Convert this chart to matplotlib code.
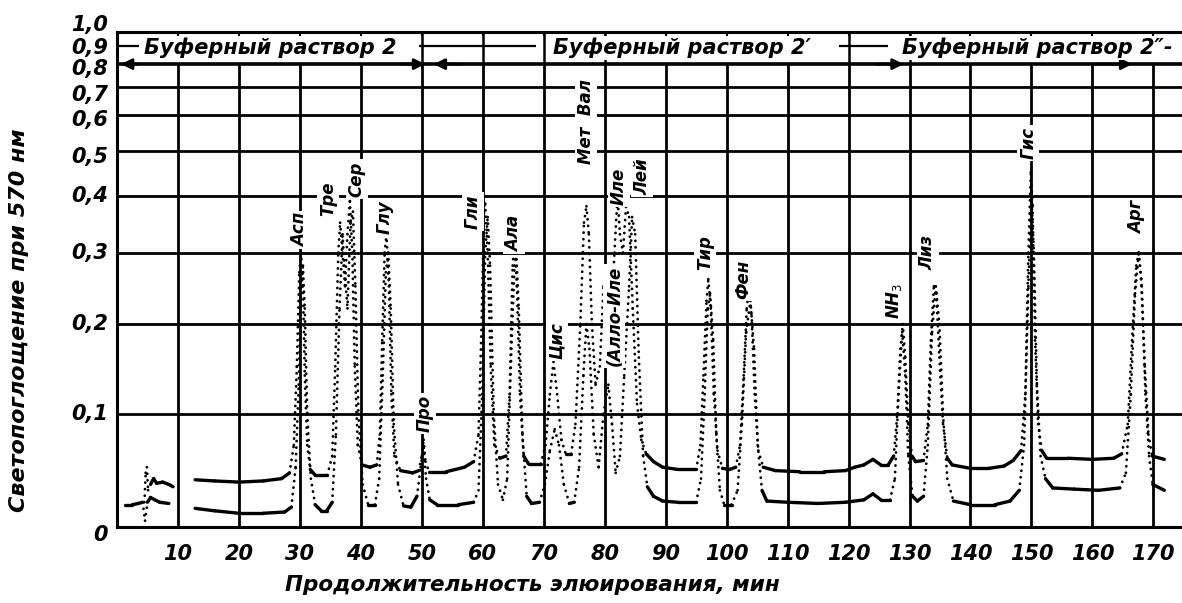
import numpy as np
import matplotlib
matplotlib.use('Agg')
import matplotlib.pyplot as plt
from matplotlib.collections import LineCollection
from matplotlib.transforms import offset_copy

# --- данные, снятые с хроматограммы (время, мин; светопоглощение) ---
# верхняя запись (канал с более высокой базовой линией)
up_t = [12.8, 16, 20, 24, 27, 28.3, 29.0, 29.5, 29.9, 30.2, 30.5, 30.8, 31.2, 31.7, 32.5, 34.5,
        35.3, 35.8, 36.3, 36.6, 37.0, 37.4, 37.8, 38.2, 38.6, 39.0, 39.5, 40.2, 41.5, 42.6,
        43.1, 43.5, 43.9, 44.2, 44.6, 45.0, 45.5, 46.5, 48.5, 49.5, 50.0, 50.3, 50.6, 51.2,
        54, 57, 58.5, 59.3, 59.8, 60.2, 60.4, 60.8, 61.3, 61.9, 62.8, 63.8, 64.4, 64.9, 65.2,
        65.6, 66.1, 66.7, 67.5, 69.5, 70.3, 71.0, 71.6, 72.2, 72.9, 73.6, 74.5, 75.2, 76.0,
        76.6, 77.0, 77.4, 77.9, 78.5, 79.2, 79.8, 80.3, 80.9, 81.6, 82.1, 82.5, 83.0, 83.5,
        84.0, 84.6, 85.3, 86.0, 86.8, 88.0, 89.5, 92, 95.0, 95.7, 96.2, 96.7, 97.0, 97.4,
        97.9, 98.5, 99.3, 100.5, 101.5, 102.2, 102.8, 103.3, 103.7, 104.1, 104.6, 105.2,
        106.0, 108, 112, 116, 119.5, 121, 122.5, 124, 125.3, 126.5, 127.4, 128.0, 128.5,
        128.9, 129.3, 129.8, 130.4, 131.0, 132.3, 133.0, 133.5, 134.0, 134.4, 134.9, 135.5,
        136.2, 137, 140, 143, 145.5, 147, 148.3, 149.0, 149.5, 149.9, 150.2, 150.6, 151.1,
        151.7, 152.5, 156, 160, 163.5, 164.8, 165.8, 166.5, 167.2, 167.6, 168.0, 168.6,
        169.2, 169.8, 171.8]
up_a = [.039, .038, .037, .038, .040, .045, .07, .15, .27, .30, .25, .14, .07, .048, .043, .043,
        .06, .15, .30, .35, .30, .25, .33, .39, .30, .15, .07, .052, .050, .052,
        .08, .18, .30, .33, .25, .12, .06, .047, .045, .047, .06, .075, .055, .046,
        .046, .050, .055, .08, .20, .37, .385, .30, .15, .07, .058, .06, .12, .28, .32,
        .25, .12, .06, .053, .053, .07, .12, .155, .12, .075, .062, .062, .09, .20,
        .35, .38, .33, .20, .13, .15, .25, .22, .18, .30, .40, .33, .30, .38,
        .36, .22, .11, .075, .062, .055, .050, .048, .048, .07, .14, .23, .26, .22,
        .12, .065, .049, .048, .050, .07, .14, .22, .25, .21, .12, .065,
        .050, .047, .046, .046, .047, .050, .052, .057, .052, .052, .06, .10, .17,
        .20, .16, .09, .06, .055, .056, .09, .18, .25, .24, .16, .09,
        .058, .052, .049, .049, .051, .056, .065, .12, .30, .45, .38, .18, .09,
        .065, .058, .058, .057, .058, .062, .09, .18, .28, .30, .26, .15,
        .08, .06, .057]

# нижняя запись
low_t = [12.8, 16, 20, 24, 27.5, 28.6, 29.3, 29.8, 30.2, 30.5, 30.8, 31.2, 31.8, 32.5, 33.5, 34.4,
         35.3, 35.9, 36.5, 37.0, 37.3, 37.8, 38.3, 38.7, 39.1, 39.6, 40.3, 41.2, 42.3, 43.0,
         43.6, 44.1, 44.5, 44.9, 45.4, 46.1, 47.0, 48.2, 49.2, 49.8, 50.3, 50.7, 51.3, 52.5,
         56, 58.5, 59.3, 59.9, 60.4, 60.8, 61.2, 61.8, 62.5, 63.3, 64.0, 64.7, 65.2, 65.5,
         65.9, 66.5, 67.2, 68, 69.3, 70.2, 71.0, 71.8, 72.5, 73.3, 74.2, 75.0, 75.8, 76.5,
         77.0, 77.5, 78.2, 79.0, 79.8, 80.6, 81.2, 81.8, 82.5, 83.2, 84.0, 84.5, 85.0, 85.6,
         86.3, 87.0, 88.0, 89.5, 92, 95.0, 95.8, 96.4, 96.9, 97.3, 97.8, 98.3, 98.9, 99.6,
         100.8, 101.8, 102.5, 103.2, 103.9, 104.5, 105.1, 105.8, 106.6, 110, 115, 119.5,
         122.5, 124, 125.3, 126.8, 127.6, 128.2, 128.8, 129.3, 129.8, 130.5, 131.3, 132.3,
         133.0, 133.7, 134.3, 134.9, 135.5, 136.2, 137.2, 140, 144, 146.5, 148, 148.8, 149.5,
         150.0, 150.4, 150.9, 151.5, 152.3, 153.5, 157, 161, 164.5, 165.5, 166.3, 167.0,
         167.6, 168.1, 168.7, 169.3, 169.9, 171.8]
low_a = [.015, .013, .011, .011, .012, .016, .05, .13, .24, .28, .22, .10, .04, .018, .013, .013,
         .02, .08, .22, .33, .28, .22, .35, .37, .25, .10, .035, .018, .018, .04,
         .14, .27, .30, .22, .09, .035, .017, .016, .025, .05, .068, .04, .022, .018,
         .018, .020, .03, .12, .30, .36, .28, .10, .035, .022, .04, .17, .28, .30,
         .22, .08, .025, .019, .020, .035, .065, .085, .07, .035, .019, .020, .05, .14,
         .20, .17, .08, .05, .10, .13, .09, .045, .06, .14, .25, .36, .33, .16,
         .06, .033, .025, .021, .020, .020, .04, .12, .22, .24, .18, .08, .03, .018,
         .018, .03, .09, .19, .23, .17, .07, .03, .021, .020, .019, .020,
         .022, .027, .022, .022, .04, .12, .19, .14, .06, .025, .021, .025,
         .07, .19, .25, .20, .10, .04, .021, .018, .018, .021, .030, .07, .25,
         .40, .30, .13, .06, .04, .032, .031, .030, .032, .045, .12, .24,
         .30, .25, .12, .06, .035, .030]

# начальный участок (ввод пробы)
up0_t = [4.5, 4.7, 4.9, 5.1, 5.5, 6.0, 6.5, 7.5, 8.5, 9.2]
up0_a = [.020, .045, .050, .030, .035, .040, .036, .037, .035, .033]
low0_t = [1.3, 2.5, 3.5, 4.2, 4.6, 5.0, 5.5, 6.2, 7.0, 8.5]
low0_a = [.018, .018, .019, .020, .005, .020, .024, .022, .020, .019]

# подписи пиков
peak_names = ['Асп', 'Тре', 'Сер', 'Глу', 'Про', 'Гли', 'Ала', 'Цис', 'Мет  Вал',
              '(Алло-Иле', 'Иле', 'Лей', 'Тир', 'Фен', 'NH$_3$', 'Лиз', 'Гис', 'Арг']
peak_t = [30.0, 34.6, 39.3, 43.9, 50.5, 58.4, 65.2, 72.1, 77.0,
          81.6, 82.3, 86.2, 96.5, 102.8, 127.5, 133.0, 149.5, 167.4]
peak_a = [.337, .395, .435, .36, .10, .37, .33, .18, .58,
          .21, .42, .44, .30, .26, .23, .30, .52, .36]

buffer_names = ['Буферный раствор 2', 'Буферный раствор 2′', 'Буферный раствор 2″-']
buffer_t = [4.4, 71.5, 128.8]

# короткие отрезки линии 0,9 в полосе подписей буферов
band_start = [0, 49.5, 118.5]
band_end = [3.6, 68.8, 126.5]

y_ticks = [0, .1, .2, .3, .4, .5, .6, .7, .8, .9, 1.0]
y_labels = ['0', '0,1', '0,2', '0,3', '0,4', '0,5', '0,6', '0,7', '0,8', '0,9', '1,0']
# сдвиг подписей шкалы, как на оригинальной ленте (пиксели, вверх +)
y_label_shift = [-8, 0, 0, 0, 0, -6, -5, -8, -5, -2, 7]
x_ticks = list(range(10, 171, 10))


def fwd(a):
    return 1 - 10 ** (-np.asarray(a, dtype=float))


def inv(u):
    u = np.clip(np.asarray(u, dtype=float), None, 0.999999)
    return -np.log10(1 - u)


def draw_trace(ax, t, a):
    pts = np.column_stack([t, a])
    segs = np.stack([pts[:-1], pts[1:]], axis=1)
    slope = np.abs(np.diff(a)) / np.diff(t)
    flat = slope < 0.012
    ax.add_collection(LineCollection(segs[flat], colors='black', linewidths=2.4,
                                     capstyle='round', zorder=2.5))
    dots = LineCollection(segs[~flat], colors='black', linewidths=2.0,
                          linestyles=[(0, (0.05, 2.3))], zorder=2.5)
    dots.set_capstyle('round')
    ax.add_collection(dots)


fig = plt.figure(figsize=(11.82, 6.03), dpi=100)
ax = fig.add_axes([0.099, 0.126, 0.901, 0.821])
ax.set_yscale('function', functions=(fwd, inv))
ax.set_xlim(0, 174.7)
ax.set_ylim(0, 1.0)

# сетка диаграммной ленты
ax.hlines([.1, .2, .3, .4, .5, .6, .7], 0, 174.7, colors='black', lw=2, zorder=2)
ax.hlines(.8, 0, 174.7, colors='black', lw=2.6, zorder=2)
ax.vlines(x_ticks, 0, .8, colors='black', lw=2, zorder=2)
ax.vlines([50, 60, 70, 80, 120, 130], .8, 1.0, colors='black', lw=1.8, zorder=2)
ax.vlines(x_ticks, .97, 1.0, colors='black', lw=1.5, zorder=2)
for x0, x1 in zip(band_start, band_end):
    ax.hlines(.9, x0, x1, colors='black', lw=1.6, zorder=2)

# стрелки смены буферов
arrow = dict(arrowstyle='-|>', color='black', lw=2, mutation_scale=16)
ax.annotate('', xy=(0.2, .8), xytext=(4, .8), arrowprops=arrow, zorder=3)
ax.annotate('', xy=(51, .8), xytext=(46, .8), arrowprops=arrow, zorder=3)
ax.annotate('', xy=(51.5, .8), xytext=(57, .8), arrowprops=arrow, zorder=3)
ax.annotate('', xy=(129.5, .8), xytext=(124, .8), arrowprops=arrow, zorder=3)
ax.annotate('', xy=(167, .8), xytext=(160, .8), arrowprops=arrow, zorder=3)

draw_trace(ax, up0_t, up0_a)
draw_trace(ax, low0_t, low0_a)
draw_trace(ax, up_t, up_a)
draw_trace(ax, low_t, low_a)

white = dict(facecolor='white', edgecolor='none', pad=1.5)
for name, t, a in zip(peak_names, peak_t, peak_a):
    ax.text(t, a, name, rotation=90, ha='center', va='center', fontsize=12,
            fontstyle='italic', fontweight='bold', bbox=white, zorder=3)

for name, t in zip(buffer_names, buffer_t):
    ax.text(t, .89, name, ha='left', va='center', fontsize=15, fontstyle='italic',
            fontweight='bold', bbox=dict(facecolor='white', edgecolor='none', pad=1), zorder=3)

for side in ['left', 'bottom', 'top']:
    ax.spines[side].set_linewidth(2.2)
ax.spines['right'].set_visible(False)

# подписи шкалы светопоглощения
ax.set_yticks([])
ax.yaxis.set_minor_locator(plt.NullLocator())
for val, lab, dy in zip(y_ticks, y_labels, y_label_shift):
    tr = offset_copy(ax.get_yaxis_transform(), fig=fig, x=-9, y=dy, units='dots')
    ax.text(0, val, lab, transform=tr, ha='right', va='center', fontsize=15,
            fontstyle='italic', fontweight='bold', clip_on=False)

ax.set_xticks(x_ticks)
ax.set_xticklabels([str(v) for v in x_ticks], fontsize=15, fontstyle='italic', fontweight='bold')
ax.tick_params(axis='both', length=0)
ax.tick_params(axis='x', pad=12)

ax.set_xlabel('Продолжительность элюирования, мин', fontsize=15.5, fontstyle='italic',
              fontweight='bold')
ax.xaxis.set_label_coords(0.39, -0.097)
ax.set_ylabel('Светопоглощение при 570 нм', fontsize=16, fontstyle='italic',
              fontweight='bold')
ax.yaxis.set_label_coords(-0.083, 0.418)

fig.savefig('out.png', dpi=100)
